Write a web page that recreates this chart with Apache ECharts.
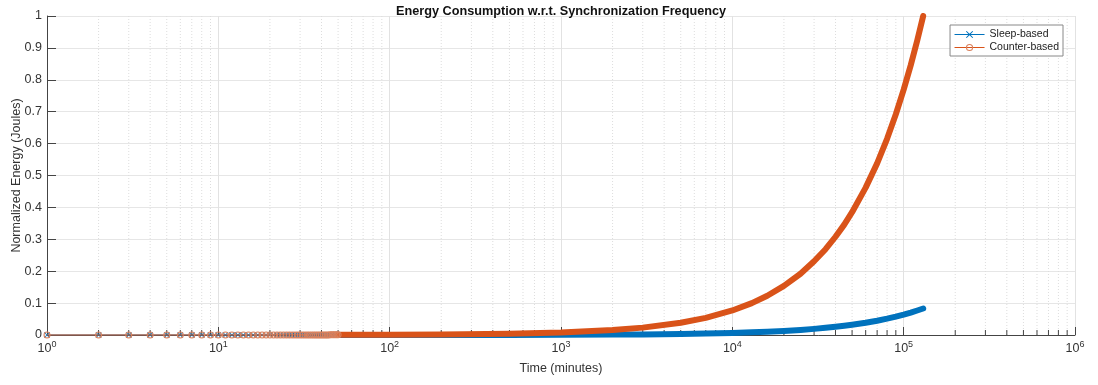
<!DOCTYPE html>
<html>
<head>
<meta charset="utf-8">
<script src="https://cdn.jsdelivr.net/npm/echarts@6/dist/echarts.min.js"></script>
<style>
  html, body { margin: 0; padding: 0; background: #fff; }
  #chart { width: 1098px; height: 385px; }
</style>
</head>
<body>
<div id="chart"></div>
<script>
// sample minutes where individual markers are visible (values read as ~0)
var markerMinutes = [1, 2, 3, 4, 5, 6, 7, 8, 9, 10, 11, 12, 13, 14, 15, 16, 17, 18, 19, 20,
  21, 22, 23, 24, 25, 26, 27, 28, 29, 30, 31, 32, 33, 34, 35, 36, 37, 38, 39, 40,
  41, 42, 43, 44, 45, 46, 47, 48, 49, 50];
var sleepMarkerEnergy = [0, 0, 0, 0, 0, 0, 0, 0, 0, 0, 0, 0, 0, 0, 0, 0, 0, 0, 0, 0,
  0, 0, 0, 0, 0, 0, 0, 0, 0, 0, 0, 0, 0, 0, 0, 0, 0, 0, 0, 0,
  0, 0, 0, 0, 0, 0, 0, 0, 0, 0];
var counterMarkerEnergy = [0, 0, 0, 0, 0, 0, 0, 0, 0, 0, 0, 0, 0, 0, 0, 0, 0, 0, 0, 0,
  0.0002, 0.0002, 0.0002, 0.0002, 0.0002, 0.0002, 0.0002, 0.0002, 0.0002, 0.0002,
  0.0002, 0.0002, 0.0002, 0.0003, 0.0003, 0.0003, 0.0003, 0.0003, 0.0003, 0.0003,
  0.0003, 0.0003, 0.0003, 0.0003, 0.0004, 0.0004, 0.0004, 0.0004, 0.0004, 0.0004];

// dense part of the curves (drawn as thick lines)
var curveMinutes = [50, 100, 200, 500, 1000, 2000, 3000, 5000, 7000, 10000, 13000, 16000,
  20000, 25000, 30000, 35000, 40000, 45000, 50000, 60000, 70000, 80000, 90000,
  100000, 110000, 120000, 130000];
var sleepEnergy = [0, 0.0001, 0.0001, 0.0003, 0.0006, 0.0013, 0.0019, 0.0032, 0.0045, 0.0064,
  0.0083, 0.0102, 0.0128, 0.016, 0.0192, 0.0224, 0.0256, 0.0288, 0.032, 0.0384, 0.0448,
  0.0512, 0.0576, 0.064, 0.0704, 0.0768, 0.083];
var counterEnergy = [0.0004, 0.0008, 0.0015, 0.0038, 0.0077, 0.0154, 0.0231, 0.0385, 0.0538,
  0.0769, 0.1, 0.123, 0.154, 0.192, 0.231, 0.269, 0.308, 0.346, 0.385, 0.462, 0.538,
  0.615, 0.692, 0.769, 0.846, 0.923, 1.0];

var seriesNames = ['Sleep-based', 'Counter-based'];
var xMin = 1, xMax = 1000000;

var blue = '#0072BD', orange = '#D95319';
// filled outlines so the marker colour is the fill colour
var crossSymbol = 'path://M0,1L1,0L5,4L9,0L10,1L6,5L10,9L9,10L5,6L1,10L0,9L4,5Z';
var ringSymbol = 'path://M10,5A5,5 0 1,1 0,5A5,5 0 1,1 10,5Z M8.5,5A3.5,3.5 0 1,0 1.5,5A3.5,3.5 0 1,0 8.5,5Z';

function pairs(xs, ys) {
  return xs.map(function (x, i) { return [x, ys[i]]; });
}

// minor grid positions 2..9 per decade
var minorTicks = [];
for (var d = 1; d < xMax; d *= 10) {
  for (var k = 2; k <= 9; k++) minorTicks.push([d * k, 0]);
}

var myChart = echarts.init(document.getElementById('chart'));
var option = {
  animation: false,
  textStyle: { fontFamily: 'Liberation Sans, Arial, sans-serif' },
  title: {
    text: 'Energy Consumption w.r.t. Synchronization Frequency',
    left: 556, textAlign: 'center', top: 0,
    textStyle: { fontSize: 12.7, fontWeight: 'bold', color: '#111' }
  },
  legend: {
    data: seriesNames,
    orient: 'vertical',
    right: 35, top: 25,
    padding: [4, 4, 3, 4],
    itemGap: 2,
    itemWidth: 30, itemHeight: 9,
    backgroundColor: '#fff',
    borderColor: '#888', borderWidth: 1, borderRadius: 0,
    lineStyle: { width: 1 },
    textStyle: { fontSize: 10.5, color: '#222' }
  },
  grid: { left: 47, right: 23, top: 16, bottom: 50, outerBoundsMode: 'none' },
  xAxis: {
    type: 'log', logBase: 10, min: xMin, max: xMax,
    name: 'Time (minutes)', nameLocation: 'middle', nameGap: 27,
    nameTextStyle: { fontSize: 12.5, color: '#333' },
    axisLine: { lineStyle: { color: '#444' } },
    axisTick: { inside: true, length: 8, lineStyle: { color: '#444' } },
    splitLine: { show: true, lineStyle: { color: '#e2e2e2' } },
    axisLabel: {
      margin: 5, color: '#333',
      formatter: function (v) { return '{b|10}{s|' + Math.round(Math.log10(v)) + '}'; },
      rich: {
        b: { fontSize: 12.5, color: '#333' },
        s: { fontSize: 9, color: '#333', padding: [0, 0, 8, 0] }
      }
    }
  },
  yAxis: {
    type: 'value', min: 0, max: 1, interval: 0.1,
    name: 'Normalized Energy (Joules)', nameLocation: 'middle', nameGap: 24,
    nameMoveOverlap: false,
    nameTextStyle: { fontSize: 12.5, color: '#333' },
    axisLine: { show: true, lineStyle: { color: '#444' } },
    axisTick: { show: true, inside: true, length: 9, lineStyle: { color: '#444' } },
    splitLine: { lineStyle: { color: '#e6e6e6' } },
    axisLabel: { fontSize: 12.5, color: '#333', margin: 5 }
  },
  series: [
    {
      type: 'custom', silent: true, z: 1,
      data: minorTicks,
      encode: { x: 0, y: 1 },
      renderItem: function (params, api) {
        var bottom = api.coord([api.value(0), 0]);
        var top = api.coord([api.value(0), 1]);
        return {
          type: 'group',
          children: [
            { type: 'line', shape: { x1: bottom[0], y1: top[1], x2: bottom[0], y2: bottom[1] },
              style: { stroke: '#dddddd', lineWidth: 1, lineDash: [1, 2] } },
            { type: 'line', shape: { x1: bottom[0], y1: bottom[1] - 5, x2: bottom[0], y2: bottom[1] },
              style: { stroke: '#444', lineWidth: 1 } }
          ]
        };
      }
    },
    {
      name: seriesNames[0], type: 'line', z: 3,
      data: pairs(markerMinutes, sleepMarkerEnergy),
      symbol: crossSymbol, symbolSize: 6, showAllSymbol: true, clip: false,
      itemStyle: { color: blue },
      lineStyle: { color: blue, width: 1 }
    },
    {
      type: 'line', z: 3, symbol: 'none',
      data: pairs(curveMinutes, sleepEnergy),
      lineStyle: { color: blue, width: 6, cap: 'round', join: 'round' }
    },
    {
      name: seriesNames[1], type: 'line', z: 4,
      data: pairs(markerMinutes, counterMarkerEnergy),
      symbol: ringSymbol, symbolSize: 7, showAllSymbol: true, clip: false,
      itemStyle: { color: '#d9805c' },
      lineStyle: { color: orange, width: 1 }
    },
    {
      type: 'line', z: 4, symbol: 'none',
      data: pairs(curveMinutes, counterEnergy),
      lineStyle: { color: orange, width: 6, cap: 'round', join: 'round' }
    }
  ]
};
myChart.setOption(option);
</script>
</body>
</html>
